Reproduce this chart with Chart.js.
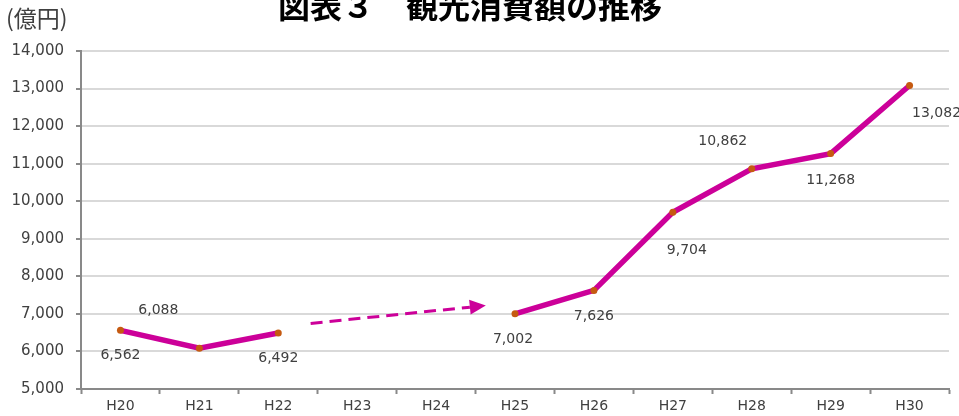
<!DOCTYPE html>
<html>
<head>
<meta charset="utf-8">
<script src="https://cdn.jsdelivr.net/npm/chart.js@4/dist/chart.umd.min.js"></script>
<style>
body{margin:0;background:#fff}
#wrap{width:959px;height:416px}
</style>
</head>
<body>
<div id="wrap"><canvas id="grafico" width="959" height="416"></canvas></div>
<script>
// data
let anos = ["H20","H21","H22","H23","H24","H25","H26","H27","H28","H29","H30"]
let consumo = [6562, 6088, 6492, null, null, 7002, 7626, 9704, 10862, 11268, 13082]
let yMin = 5000
let yMax = 14000
let yPasso = 1000
// dashed arrow across the gap (category index, value)
let setaDe = [2.41, 6747]
let setaAte = [4.63, 7223]

let titulo = "図表３　観光消費額の推移"
let unidade = "(億円)"

// label offsets from each point (px)
let deslocLabel = [[0,25],[-41,-38],[0,25],null,null,[-2,26],[0,26],[14,38],[-29,-27],[0,27],[27,28]]

let cor = "#cc0099"
let cinza = "#898989"
let texto = "#404040"

let extras = {
id:"extras",
afterDatasetsDraw(chart){
let c = chart.ctx
let x = chart.scales.x
let y = chart.scales.y

// dashed arrow
let x1 = x.getPixelForValue(setaDe[0]), y1 = y.getPixelForValue(setaDe[1])
let x2 = x.getPixelForValue(setaAte[0]), y2 = y.getPixelForValue(setaAte[1])
let ang = Math.atan2(y2-y1, x2-x1)
let cab = 16
c.save()
c.strokeStyle = cor
c.lineWidth = 3
c.setLineDash([12,7])
c.beginPath()
c.moveTo(x1,y1)
c.lineTo(x2 - cab*Math.cos(ang), y2 - cab*Math.sin(ang))
c.stroke()
c.setLineDash([])
c.fillStyle = cor
c.beginPath()
c.moveTo(x2,y2)
c.lineTo(x2 - cab*Math.cos(ang) + 7.5*Math.sin(ang), y2 - cab*Math.sin(ang) - 7.5*Math.cos(ang))
c.lineTo(x2 - cab*Math.cos(ang) - 7.5*Math.sin(ang), y2 - cab*Math.sin(ang) + 7.5*Math.cos(ang))
c.closePath()
c.fill()

// value labels
c.fillStyle = texto
c.font = "14px 'DejaVu Sans'"
c.textAlign = "center"
c.textBaseline = "middle"
let pts = chart.getDatasetMeta(0).data
consumo.forEach((v,i)=>{
if(v==null) return
let d = deslocLabel[i]
c.fillText(v.toLocaleString("en-US"), pts[i].x + d[0], pts[i].y + d[1])
})

// unit + title
c.textAlign = "left"
c.font = "23px 'Noto Sans CJK JP'"
c.fillText(unidade, 6, 18)
c.textAlign = "center"
c.fillStyle = "#000"
c.font = "bold 32px 'Noto Sans CJK JP'"
c.fillText(titulo, 470, 6)
c.restore()
}
}

let ctx = document.getElementById("grafico").getContext("2d")

let grafico = new Chart(ctx, {
type:"line",
data:{
labels:anos,
datasets:[{
label:"観光消費額",
data:consumo,
borderColor:cor,
borderWidth:5.5,
pointRadius:3.5,
pointBackgroundColor:"#c55a11",
pointBorderWidth:0,
spanGaps:false,
tension:0
}]
},
options:{
responsive:false,
animation:false,
devicePixelRatio:1,
layout:{padding:{top:51,right:10,left:0,bottom:0}},
plugins:{legend:{display:false},tooltip:{enabled:false},title:{display:false}},
scales:{
x:{
offset:true,
afterFit(s){ s.height = 27 },
grid:{display:true,drawOnChartArea:false,drawTicks:true,tickLength:5,offset:true,tickColor:cinza,tickWidth:2},
border:{color:cinza,width:2},
ticks:{color:texto,font:{family:"DejaVu Sans",size:14},padding:4,maxRotation:0,autoSkip:false}
},
y:{
min:yMin,
max:yMax,
afterFit(s){ s.width = 81 },
grid:{color:"#d9d9d9",lineWidth:2,drawTicks:true,tickLength:5,tickColor:cinza,tickWidth:2},
border:{color:cinza,width:2},
ticks:{
stepSize:yPasso,
color:texto,
font:{family:"DejaVu Sans",size:15},
padding:12,
callback:v=>v.toLocaleString("en-US")
}
}
}
},
plugins:[extras]
})
</script>
</body>
</html>
